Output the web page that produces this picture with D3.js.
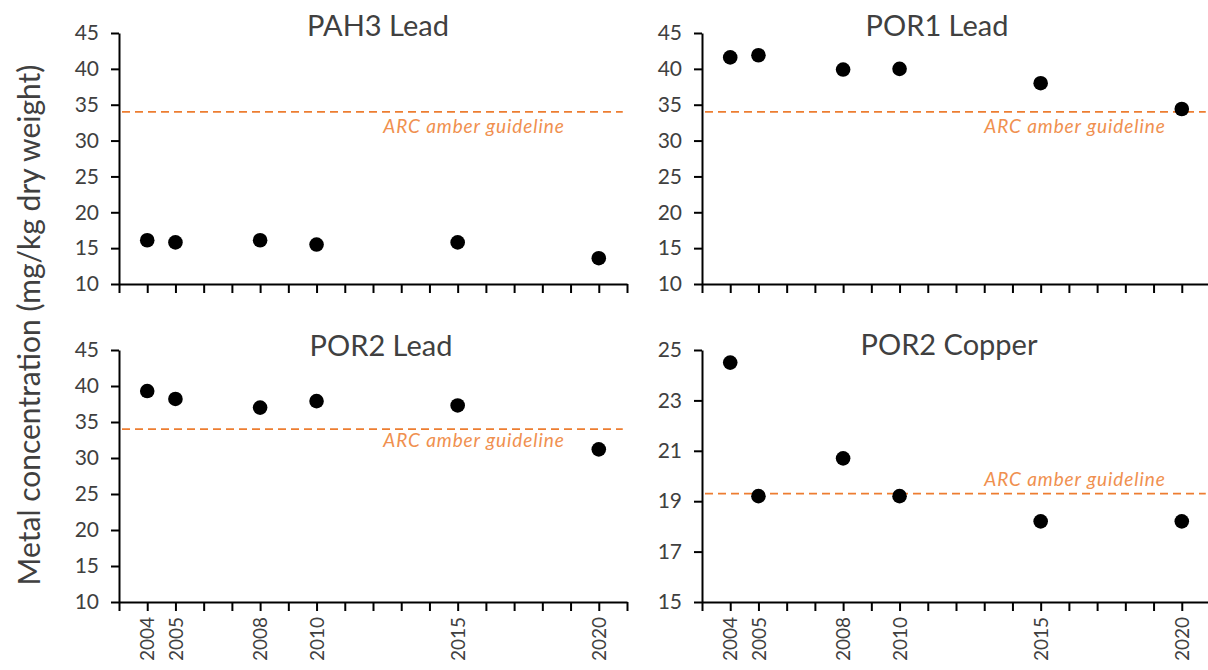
<!DOCTYPE html>
<html>
<head>
<meta charset="utf-8">
<script src="https://cdn.jsdelivr.net/npm/d3@7"></script>
<style>
  html, body { margin: 0; padding: 0; background: #fff; }
  svg { display: block; font-family: "Lato", "Liberation Sans", sans-serif; }
</style>
</head>
<body>
<svg id="chart" width="1208" height="670"></svg>
<script>
// Sampling years and measured concentrations (mg/kg dry weight)
const years = [2004, 2005, 2008, 2010, 2015, 2020];
const pah3Lead = [16.1, 15.8, 16.1, 15.5, 15.8, 13.6];
const por1Lead = [41.6, 41.9, 39.9, 40.0, 38.0, 34.4];
const por2Lead = [39.3, 38.2, 37.0, 37.9, 37.3, 31.2];
const por2Copper = [24.5, 19.2, 20.7, 19.2, 18.2, 18.2];

const panelTitles = ["PAH3 Lead", "POR1 Lead", "POR2 Lead", "POR2 Copper"];
const leadTicks = [10, 15, 20, 25, 30, 35, 40, 45];
const copperTicks = [15, 17, 19, 21, 23, 25];
const leadGuideline = 34;
const copperGuideline = 19.3;
const guidelineLabel = "ARC amber guideline";
const yAxisTitle = "Metal concentration (mg/kg dry weight)";
const yearDomain = [2003, 2021];

const svg = d3.select("#chart");
const plotW = 508;
const orange = "#ED7D31";
const textColor = "#404040";

const panels = [
  { title: panelTitles[0], values: pah3Lead, ticks: leadTicks, guide: leadGuideline,
    left: 119, top: 33, h: 251, titleX: 378, titleY: 36, labelX: 474, labelY: 133, xLabels: false },
  { title: panelTitles[1], values: por1Lead, ticks: leadTicks, guide: leadGuideline,
    left: 702, top: 33, h: 251, titleX: 937, titleY: 36, labelX: 1075, labelY: 133, xLabels: false },
  { title: panelTitles[2], values: por2Lead, ticks: leadTicks, guide: leadGuideline,
    left: 119, top: 350, h: 252, titleX: 381, titleY: 356, labelX: 474, labelY: 447, xLabels: true },
  { title: panelTitles[3], values: por2Copper, ticks: copperTicks, guide: copperGuideline,
    left: 702, top: 350, h: 252, titleX: 949, titleY: 355, labelX: 1075, labelY: 486, xLabels: true }
];

panels.forEach(p => {
  const g = svg.append("g").attr("transform", `translate(${p.left},${p.top})`);
  const x = d3.scaleLinear().domain(yearDomain).range([0, plotW]);
  const y = d3.scaleLinear().domain(d3.extent(p.ticks)).range([p.h, 0]);

  // guideline
  g.append("line")
    .attr("x1", x(2003) + 3).attr("x2", x(2020.85))
    .attr("y1", y(p.guide)).attr("y2", y(p.guide))
    .attr("stroke", orange).attr("stroke-width", 1.8)
    .attr("stroke-dasharray", "8,5");

  svg.append("text")
    .attr("x", p.labelX).attr("y", p.labelY)
    .attr("text-anchor", "middle")
    .attr("font-style", "italic")
    .attr("font-size", 19)
    .attr("letter-spacing", 0.9)
    .attr("fill", "#F0904F")
    .text(guidelineLabel);

  // y axis
  const yAxis = d3.axisLeft(y).tickValues(p.ticks).tickSize(8).tickPadding(12).tickSizeOuter(0);
  const ya = g.append("g").call(yAxis);
  ya.select(".domain").attr("stroke", "#000").attr("stroke-width", 2);
  ya.selectAll(".tick line").attr("stroke", "#000").attr("stroke-width", 2);
  ya.selectAll(".tick text").attr("font-size", 21).attr("fill", textColor)
    .attr("font-family", "Lato, 'Liberation Sans', sans-serif");

  // x axis: a tick per year, labels only on sampled years
  const allYears = d3.range(yearDomain[0], yearDomain[1] + 1);
  const xAxis = d3.axisBottom(x).tickValues(allYears).tickSize(9).tickSizeOuter(0)
    .tickFormat(d => (p.xLabels && years.includes(d)) ? String(d) : "");
  const xa = g.append("g").attr("transform", `translate(0,${p.h})`).call(xAxis);
  xa.select(".domain").attr("stroke", "#000").attr("stroke-width", 2);
  xa.selectAll(".tick line").attr("stroke", "#000").attr("stroke-width", 2);
  xa.selectAll(".tick text")
    .attr("font-size", 19).attr("fill", textColor)
    .attr("font-family", "Lato, 'Liberation Sans', sans-serif")
    .attr("text-anchor", "end")
    .attr("transform", "rotate(-90)")
    .attr("x", -15).attr("y", 0).attr("dy", "0.35em");

  // points
  g.selectAll("circle.pt").data(years.map((yr, i) => ({ yr, v: p.values[i] })))
    .join("circle")
    .attr("class", "pt")
    .attr("cx", d => x(d.yr)).attr("cy", d => y(d.v))
    .attr("r", 7.3).attr("fill", "#000");

  // title
  svg.append("text")
    .attr("x", p.titleX).attr("y", p.titleY)
    .attr("text-anchor", "middle")
    .attr("font-size", 29).attr("fill", textColor)
    .text(p.title);
});

svg.append("text")
  .attr("transform", "translate(40,325) rotate(-90)")
  .attr("text-anchor", "middle")
  .attr("font-size", 30).attr("fill", textColor)
  .text(yAxisTitle);
</script>
</body>
</html>
